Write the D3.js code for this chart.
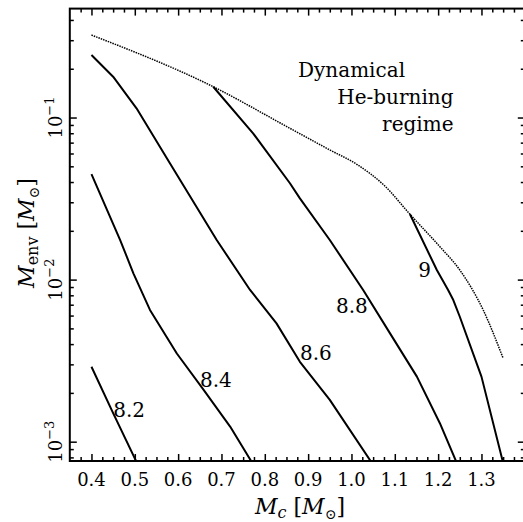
<!DOCTYPE html>
<html>
<head>
<meta charset="utf-8">
<script src="https://cdn.jsdelivr.net/npm/d3@7"></script>
<style>
  body { margin: 0; background: #fff; }
  svg { display: block; }
  svg text { font-family: "DejaVu Serif", "Liberation Serif", serif; fill: #000; }
</style>
</head>
<body>
<svg id="chart" width="523" height="522"></svg>
<script>
// ---- data -------------------------------------------------------------
// Core mass Mc [Msun] vs envelope mass Menv [Msun] for constant log L tracks
const xTickValues = [0.4, 0.5, 0.6, 0.7, 0.8, 0.9, 1.0, 1.1, 1.2, 1.3];
const xTickLabels = ["0.4", "0.5", "0.6", "0.7", "0.8", "0.9", "1.0", "1.1", "1.2", "1.3"];
const yTickValues = [1e-3, 1e-2, 1e-1];
const yTickExponents = ["\u22123", "\u22122", "\u22121"];

const curveNames = ["8.2", "8.4", "8.6", "8.8", "9"];
const track82 = [[0.40, 0.0029], [0.450, 0.0015], [0.505, 0.00074]];
const track84 = [[0.40, 0.0448], [0.466, 0.0176], [0.497, 0.0109], [0.535, 0.0065],
                 [0.597, 0.0035], [0.658, 0.0021], [0.720, 0.00124], [0.771, 0.00074]];
const track86 = [[0.40, 0.243], [0.450, 0.1786], [0.504, 0.1140], [0.581, 0.0522],
                 [0.689, 0.01755], [0.766, 0.00863], [0.827, 0.00537], [0.881, 0.00311],
                 [0.950, 0.00181], [1.047, 0.00074]];
const track88 = [[0.681, 0.1549], [0.773, 0.0799], [0.858, 0.0393], [0.881, 0.0317],
                 [0.950, 0.01755], [1.027, 0.00863], [1.089, 0.00466], [1.151, 0.00252],
                 [1.204, 0.00130], [1.243, 0.00074]];
const track90 = [[1.135, 0.0253], [1.197, 0.01146], [1.223, 0.00863], [1.235, 0.00748],
                 [1.250, 0.00590], [1.300, 0.00252], [1.350, 0.00074]];
const tracks = [track82, track84, track86, track88, track90];

// Label anchors for each track, in data coordinates (Mc, Menv)
const curveLabelAt = [[0.487, 0.00143], [0.687, 0.00219], [0.918, 0.00319],
                      [1.001, 0.00622], [1.169, 0.01045]];

// Boundary of the dynamical He-burning regime
const boundary = [[0.40, 0.3228], [0.681, 0.1549], [0.858, 0.0858], [0.9505, 0.0630],
                  [1.013, 0.0513], [1.077, 0.0378], [1.135, 0.0253], [1.204, 0.01596],
                  [1.250, 0.01146], [1.304, 0.00649], [1.350, 0.00327]];

const regimeLines = ["Dynamical", "He-burning", "regime"];

// ---- layout -----------------------------------------------------------
const svg = d3.select("#chart");
const plotLeft = 69.8, plotRight = 524.8, plotTop = 8.6, plotBottom = 461;

const x = d3.scaleLinear().domain([0.35, 1.4]).range([plotLeft, plotRight]);
const y = d3.scaleLog().domain([7.6e-4, 0.47]).range([plotBottom, plotTop]);

svg.append("defs").append("clipPath").attr("id", "plot-clip")
  .append("rect").attr("x", plotLeft).attr("y", plotTop)
  .attr("width", plotRight - plotLeft).attr("height", plotBottom - plotTop);

// ---- ticks (all pointing inward) ---------------------------------------
const xMinor = d3.range(0.375, 1.4, 0.025)
  .filter(v => Math.abs(v * 10 - Math.round(v * 10)) > 1e-6);
const yMinor = [];
[-4, -3, -2, -1].forEach(e => {
  for (let m = 2; m <= 9; m++) {
    const v = m * Math.pow(10, e);
    if (v > 7.6e-4 && v < 0.47) yMinor.push(v);
  }
});

function tickGroup(axis, tx, ty) {
  const g = svg.append("g").attr("transform", `translate(${tx},${ty})`).call(axis);
  g.select(".domain").remove();
  g.selectAll(".tick line").attr("stroke", "#000").attr("stroke-width", 1.5);
  g.selectAll(".tick text").remove();
  return g;
}
const majLen = -7, minLen = -4;
tickGroup(d3.axisBottom(x).tickValues(xTickValues).tickSize(majLen).tickFormat(""), 0, plotBottom);
tickGroup(d3.axisBottom(x).tickValues(xMinor).tickSize(minLen).tickFormat(""), 0, plotBottom);
tickGroup(d3.axisTop(x).tickValues(xTickValues).tickSize(majLen).tickFormat(""), 0, plotTop);
tickGroup(d3.axisTop(x).tickValues(xMinor).tickSize(minLen).tickFormat(""), 0, plotTop);
tickGroup(d3.axisLeft(y).tickValues(yTickValues).tickSize(majLen).tickFormat(""), plotLeft, 0);
tickGroup(d3.axisLeft(y).tickValues(yMinor).tickSize(minLen).tickFormat(""), plotLeft, 0);
tickGroup(d3.axisRight(y).tickValues(yTickValues).tickSize(majLen).tickFormat(""), plotRight, 0);
tickGroup(d3.axisRight(y).tickValues(yMinor).tickSize(minLen).tickFormat(""), plotRight, 0);

// frame
svg.append("rect")
  .attr("x", plotLeft).attr("y", plotTop)
  .attr("width", plotRight - plotLeft).attr("height", plotBottom - plotTop)
  .attr("fill", "none").attr("stroke", "#000").attr("stroke-width", 2);

// ---- tick labels --------------------------------------------------------
svg.append("g").selectAll("text")
  .data(xTickValues)
  .join("text")
  .attr("x", d => x(d))
  .attr("y", 486)
  .attr("text-anchor", "middle")
  .attr("font-size", 18)
  .text((d, i) => xTickLabels[i]);

const yLab = svg.append("g").selectAll("text")
  .data(yTickValues)
  .join("text")
  .attr("transform", d => `translate(61.5,${y(d)}) rotate(-90)`)
  .attr("text-anchor", "middle")
  .attr("font-size", 18);
yLab.append("tspan").text("10");
yLab.append("tspan").attr("font-size", 13).attr("dy", -8).text((d, i) => yTickExponents[i]);

// ---- axis titles -------------------------------------------------------
const xt = svg.append("text")
  .attr("x", 300).attr("y", 514)
  .attr("text-anchor", "middle")
  .attr("font-size", 22);
xt.append("tspan").attr("font-style", "italic").text("M");
xt.append("tspan").attr("font-style", "italic").attr("font-size", 16).attr("dy", 4).text("c");
xt.append("tspan").attr("dy", -4).text(" [");
xt.append("tspan").attr("font-style", "italic").text("M");
xt.append("tspan").attr("font-size", 14).attr("dy", 5).text("\u2299");
xt.append("tspan").attr("dy", -5).text("]");

const yt = svg.append("text")
  .attr("transform", `translate(34,233) rotate(-90)`)
  .attr("text-anchor", "middle")
  .attr("font-size", 22);
yt.append("tspan").attr("font-style", "italic").text("M");
yt.append("tspan").attr("font-size", 16).attr("dy", 4).text("env");
yt.append("tspan").attr("dy", -4).text(" [");
yt.append("tspan").attr("font-style", "italic").text("M");
yt.append("tspan").attr("font-size", 14).attr("dy", 5).text("\u2299");
yt.append("tspan").attr("dy", -5).text("]");

// ---- curves -------------------------------------------------------------
const line = d3.line().x(d => x(d[0])).y(d => y(d[1]));
const smooth = d3.line().x(d => x(d[0])).y(d => y(d[1])).curve(d3.curveMonotoneX);
const plot = svg.append("g").attr("clip-path", "url(#plot-clip)");

plot.append("path")
  .datum(boundary)
  .attr("d", smooth)
  .attr("fill", "none")
  .attr("stroke", "#000")
  .attr("stroke-width", 1.5)
  .attr("stroke-dasharray", "1.5,1");

plot.selectAll("path.track")
  .data(tracks)
  .join("path")
  .attr("class", "track")
  .attr("d", line)
  .attr("fill", "none")
  .attr("stroke", "#000")
  .attr("stroke-width", 2)
  .attr("stroke-linejoin", "round");

svg.append("g").selectAll("text")
  .data(curveNames)
  .join("text")
  .attr("x", (d, i) => x(curveLabelAt[i][0]))
  .attr("y", (d, i) => y(curveLabelAt[i][1]))
  .attr("text-anchor", "middle")
  .attr("font-size", 20)
  .text(d => d);

// ---- regime annotation --------------------------------------------------
const ann = svg.append("g").attr("font-size", 20);
ann.append("text").attr("x", 298).attr("y", 77).text(regimeLines[0]);
ann.append("text").attr("x", 453.5).attr("y", 104).attr("text-anchor", "end").text(regimeLines[1]);
ann.append("text").attr("x", 453.5).attr("y", 130.5).attr("text-anchor", "end").text(regimeLines[2]);
</script>
</body>
</html>
